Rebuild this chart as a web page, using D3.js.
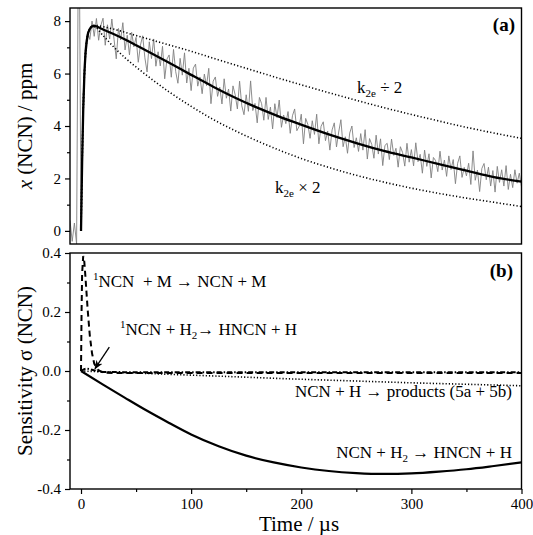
<!DOCTYPE html>
<html>
<head>
<meta charset="utf-8">
<script src="https://cdn.jsdelivr.net/npm/d3@7"></script>
<style>
  body { margin: 0; background: #fff; }
  svg text { font-family: "Liberation Serif", "Times New Roman", serif; fill: #000; }
</style>
</head>
<body>
<div id="chart"></div>
<script>
// ---- panel (a): measured NCN trace, sampled every 2 µs from -10 µs
const sigStart = -10, sigStep = 2;
const signal = [
  0.4, -0.4, 0.3, -0.5, 14, 0.2, 5.2, 7.1, 7.6, 7.3,
  8.0, 7.42, 8.1, 7.27, 7.84, 8.11, 7.08, 7.86, 7.32, 8.08,
  7.3, 6.56, 7.72, 7.28, 7.94, 6.9, 7.46, 6.71, 7.57, 7.02,
  7.38, 6.43, 7.09, 7.44, 6.6, 6.06, 7.21, 6.57, 7.32, 6.28,
  6.83, 6.29, 7.04, 5.8, 6.55, 6.71, 5.86, 6.92, 6.07, 5.63,
  6.58, 5.94, 6.79, 5.64, 6.2, 5.35, 6.21, 6.36, 5.52, 5.87,
  5.23, 5.98, 5.54, 6.2, 4.85, 5.71, 5.87, 5.13, 5.48, 4.84,
  5.8, 5.06, 5.41, 4.57, 5.53, 5.19, 4.65, 5.71, 4.77, 4.43,
  5.19, 4.56, 5.72, 4.59, 4.86, 4.12, 5.09, 4.85, 4.22, 5.09,
  4.25, 4.72, 3.89, 4.85, 4.32, 4.99, 3.95, 4.42, 4.09, 4.55,
  3.72, 4.39, 4.65, 3.82, 3.98, 4.45, 3.32, 4.29, 4.06, 3.53,
  4.2, 3.68, 4.45, 3.32, 3.99, 4.16, 3.44, 3.81, 3.08, 3.85,
  4.12, 3.2, 3.77, 4.24, 3.21, 3.59, 2.96, 3.73, 4.0, 3.18,
  3.55, 3.03, 3.71, 3.08, 3.86, 2.74, 3.52, 3.3, 2.77, 3.65,
  2.93, 3.51, 2.49, 3.26, 3.34, 2.72, 3.5, 2.88, 3.15, 2.43,
  3.21, 2.99, 2.47, 3.34, 2.62, 3.1, 2.48, 3.36, 2.64, 2.92,
  2.2, 3.08, 2.46, 2.94, 2.02, 2.8, 2.68, 2.26, 3.04, 2.32,
  2.7, 2.08, 2.86, 2.34, 2.72, 1.8, 2.58, 2.86, 2.04, 2.42,
  2.1, 2.58, 1.77, 3.05, 1.93, 2.32, 1.5, 2.38, 2.57, 1.95,
  2.43, 1.71, 2.3, 1.48, 2.46, 1.85, 2.33, 1.71, 2.49, 1.58,
  2.16, 1.65, 2.33, 1.82, 2.2, 1.68
];

// model fit and the k2e variations
const fitT = [0, 1, 2, 3, 4, 5, 6, 8, 10, 12, 15, 20, 30, 40, 50, 60, 80, 100, 120, 140, 160, 180, 200, 225, 250, 275, 300, 325, 350, 375, 400];
const fitV = [0, 2.6, 4.6, 5.9, 6.7, 7.15, 7.45, 7.7, 7.8, 7.82, 7.78, 7.68, 7.5, 7.3, 7.08, 6.86, 6.41, 5.95, 5.5, 5.08, 4.7, 4.36, 4.05, 3.68, 3.35, 3.05, 2.8, 2.55, 2.3, 2.05, 1.88];
const slowT = [0, 2, 4, 6, 8, 10, 12, 25, 50, 75, 100, 125, 150, 175, 200, 225, 250, 275, 300, 325, 350, 375, 400];
const slowV = [0, 4.6, 6.7, 7.45, 7.7, 7.8, 7.84, 7.74, 7.45, 7.15, 6.85, 6.52, 6.2, 5.88, 5.57, 5.27, 4.98, 4.7, 4.44, 4.19, 3.95, 3.73, 3.53];
const fastT = [0, 2, 4, 6, 8, 10, 12, 20, 30, 40, 50, 60, 80, 100, 120, 140, 160, 180, 200, 225, 250, 275, 300, 325, 350, 375, 400];
const fastV = [0, 4.6, 6.7, 7.45, 7.7, 7.78, 7.78, 7.45, 7.0, 6.6, 6.25, 5.92, 5.3, 4.75, 4.25, 3.82, 3.43, 3.08, 2.76, 2.42, 2.12, 1.86, 1.63, 1.43, 1.25, 1.09, 0.93];

// ---- panel (b): sensitivities
const h2T = [0, 20, 40, 60, 80, 100, 125, 150, 175, 200, 225, 250, 275, 300, 325, 350, 375, 400];
const h2V = [0, -0.046, -0.091, -0.135, -0.176, -0.215, -0.255, -0.287, -0.31, -0.327, -0.339, -0.346, -0.349, -0.347, -0.341, -0.333, -0.322, -0.31];
const mT = [0, 0.5, 1, 2, 3, 4, 6, 8, 10, 12, 15, 20, 30, 50, 100, 150, 200, 250, 300, 350, 400];
const mV = [0, 0.2, 0.33, 0.39, 0.37, 0.32, 0.21, 0.12, 0.06, 0.025, 0.005, -0.005, -0.007, -0.007, -0.007, -0.007, -0.007, -0.007, -0.007, -0.007, -0.007];
const sH2T = [0, 5, 10, 15, 20, 50, 100, 200, 300, 400];
const sH2V = [0, 0.008, 0.004, 0.0, -0.003, -0.004, -0.004, -0.004, -0.004, -0.004];
const hT = [0, 50, 100, 150, 200, 250, 300, 350, 400];
const hV = [0, -0.007, -0.014, -0.021, -0.028, -0.034, -0.04, -0.045, -0.05];

const ticksA = [0, 2, 4, 6, 8], minorA = [1, 3, 5, 7];
const ticksB = [-0.4, -0.2, 0, 0.2, 0.4], minorB = [-0.3, -0.1, 0.1, 0.3];
const ticksX = [0, 100, 200, 300, 400], minorX = [50, 150, 250, 350];

const width = 533, height = 535;
const left = 70, right = 521.5;
const aTop = 8, aBot = 244, bTop = 253, bBot = 489;
const serif = "'Liberation Serif', 'Times New Roman', serif";

const svg = d3.select("#chart").append("svg")
  .attr("width", width).attr("height", height)
  .attr("font-family", serif)
  .style("background-color", "#FFFFFF");

const x = d3.scaleLinear().domain([-10, 400]).range([left, right]);
const yA = d3.scaleLinear().domain([-0.5, 8.5]).range([aBot, aTop]);
const yB = d3.scaleLinear().domain([-0.4, 0.4]).range([bBot, bTop]);

const defs = svg.append("defs");
defs.append("clipPath").attr("id", "clipA").append("rect")
  .attr("x", left).attr("y", aTop).attr("width", right - left).attr("height", aBot - aTop);
defs.append("clipPath").attr("id", "clipB").append("rect")
  .attr("x", left).attr("y", bTop).attr("width", right - left).attr("height", bBot - bTop);
defs.append("marker").attr("id", "arrow")
  .attr("viewBox", "0 0 10 10").attr("refX", 9).attr("refY", 5)
  .attr("markerWidth", 7).attr("markerHeight", 7).attr("orient", "auto")
  .append("path").attr("d", "M0,1 L10,5 L0,9 L3,5 Z").attr("fill", "#000");

function lineOf(ts, vs, y) {
  return d3.line().x((d, i) => x(ts[i])).y(d => y(d)).curve(d3.curveMonotoneX)(vs);
}

// panel (a) curves
const ga = svg.append("g").attr("clip-path", "url(#clipA)");
ga.append("path")
  .attr("d", d3.line().x((d, i) => x(sigStart + i * sigStep)).y(d => yA(d))(signal))
  .attr("fill", "none").attr("stroke", "#808080").attr("stroke-width", 0.9);
ga.append("path").attr("d", lineOf(slowT, slowV, yA))
  .attr("fill", "none").attr("stroke", "#000").attr("stroke-width", 1.6).attr("stroke-dasharray", "1.2,2.2");
ga.append("path").attr("d", lineOf(fastT, fastV, yA))
  .attr("fill", "none").attr("stroke", "#000").attr("stroke-width", 1.6).attr("stroke-dasharray", "1.2,2.2");
ga.append("path").attr("d", lineOf(fitT, fitV, yA))
  .attr("fill", "none").attr("stroke", "#000").attr("stroke-width", 2.3);

// panel (b) curves
const gb = svg.append("g").attr("clip-path", "url(#clipB)");
gb.append("path").attr("d", lineOf(hT, hV, yB))
  .attr("fill", "none").attr("stroke", "#000").attr("stroke-width", 1.6).attr("stroke-dasharray", "1.2,2");
gb.append("path").attr("d", lineOf(sH2T, sH2V, yB))
  .attr("fill", "none").attr("stroke", "#000").attr("stroke-width", 2).attr("stroke-dasharray", "5,2,1.5,2");
gb.append("path").attr("d", d3.line().x((d, i) => x(mT[i])).y(d => yB(d))(mV))
  .attr("fill", "none").attr("stroke", "#000").attr("stroke-width", 2).attr("stroke-dasharray", "6,4");
gb.append("path").attr("d", lineOf(h2T, h2V, yB))
  .attr("fill", "none").attr("stroke", "#000").attr("stroke-width", 2.2);

// frames
[[aTop, aBot], [bTop, bBot]].forEach(p => {
  svg.append("rect").attr("x", left).attr("y", p[0]).attr("width", right - left).attr("height", p[1] - p[0])
    .attr("fill", "none").attr("stroke", "#000").attr("stroke-width", 1.4);
});

// axes
function styleAxis(g) {
  g.attr("font-family", serif);
  g.select(".domain").remove();
  g.selectAll("line").attr("stroke", "#000").attr("stroke-width", 1.2);
  g.selectAll("text").style("font-size", "15px");
}
const fmtB = d => (d < 0 ? "-" : "") + Math.abs(d).toFixed(1);

svg.append("g").attr("transform", `translate(${left},0)`)
  .call(d3.axisLeft(yA).tickValues(ticksA).tickSize(5).tickPadding(4).tickFormat(d3.format("d"))).call(styleAxis);
svg.append("g").attr("transform", `translate(${left},0)`)
  .call(d3.axisLeft(yA).tickValues(minorA).tickSize(3).tickFormat("")).call(styleAxis);
svg.append("g").attr("transform", `translate(${left},0)`)
  .call(d3.axisLeft(yB).tickValues(ticksB).tickSize(5).tickPadding(4).tickFormat(fmtB)).call(styleAxis);
svg.append("g").attr("transform", `translate(${left},0)`)
  .call(d3.axisLeft(yB).tickValues(minorB).tickSize(3).tickFormat("")).call(styleAxis);
svg.append("g").attr("transform", `translate(0,${bBot})`)
  .call(d3.axisBottom(x).tickValues(ticksX).tickSize(5).tickPadding(4).tickFormat(d3.format("d"))).call(styleAxis);
svg.append("g").attr("transform", `translate(0,${bBot})`)
  .call(d3.axisBottom(x).tickValues(minorX).tickSize(3).tickFormat("")).call(styleAxis);

// axis titles
const ta = svg.append("text").attr("transform", "rotate(-90)")
  .attr("x", -(aTop + aBot) / 2).attr("y", 32).attr("text-anchor", "middle").style("font-size", "21px");
ta.append("tspan").style("font-style", "italic").text("x");
ta.append("tspan").text(" (NCN) / ppm");
svg.append("text").attr("transform", "rotate(-90)")
  .attr("x", -(bTop + bBot) / 2).attr("y", 32).attr("text-anchor", "middle").style("font-size", "21px")
  .text("Sensitivity σ (NCN)");
svg.append("text").attr("x", 299).attr("y", 531).attr("text-anchor", "middle")
  .style("font-size", "21px").text("Time / µs");

// annotations with sub/superscripts
function richText(xp, yp, parts, anchor) {
  const t = svg.append("text").attr("x", xp).attr("y", yp)
    .attr("text-anchor", anchor || "start").style("font-size", "17px").style("white-space", "pre");
  let shift = 0;
  parts.forEach(p => {
    const target = p.sub ? 4 : p.sup ? -7 : 0;
    const ts = t.append("tspan").attr("dy", target - shift).text(p.t);
    if (p.sub || p.sup) ts.style("font-size", "11px");
    shift = target;
  });
  return t;
}

richText(357, 93, [{t: "k"}, {t: "2e", sub: true}, {t: " ÷ 2"}]);
richText(275, 193, [{t: "k"}, {t: "2e", sub: true}, {t: " × 2"}]);
richText(93, 287, [{t: "1", sup: true}, {t: "NCN  + M → NCN + M"}]);
richText(120, 335, [{t: "1", sup: true}, {t: "NCN + H"}, {t: "2", sub: true}, {t: "→ HNCN + H"}]);
richText(512, 397, [{t: "NCN + H → products (5a + 5b)"}], "end");
richText(512, 458, [{t: "NCN + H"}, {t: "2", sub: true}, {t: " → HNCN + H"}], "end");

svg.append("text").attr("x", 515).attr("y", 31).attr("text-anchor", "end")
  .style("font-size", "19px").style("font-weight", "bold").text("(a)");
svg.append("text").attr("x", 513).attr("y", 277).attr("text-anchor", "end")
  .style("font-size", "19px").style("font-weight", "bold").text("(b)");

// arrow pointing at the start of the 1NCN + H2 curve
svg.append("line")
  .attr("x1", x(25.7)).attr("y1", yB(0.081)).attr("x2", x(12.7)).attr("y2", yB(0.008))
  .attr("stroke", "#000").attr("stroke-width", 1.3).attr("marker-end", "url(#arrow)");
</script>
</body>
</html>
